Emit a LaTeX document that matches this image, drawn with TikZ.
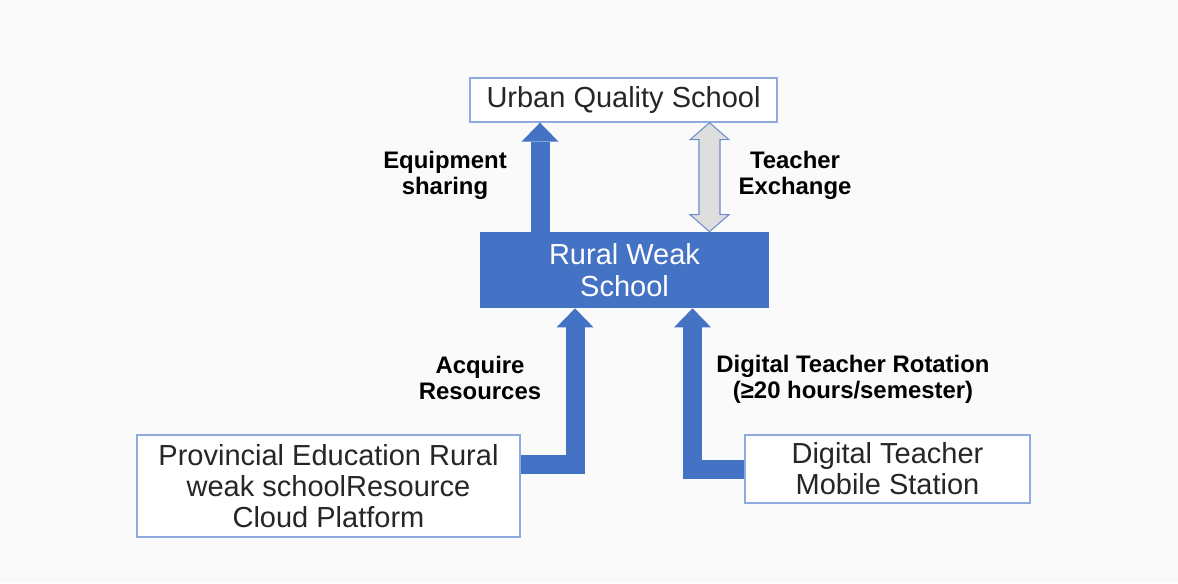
\documentclass[tikz,border=0pt]{standalone}
\usepackage{fontspec}
\setmainfont{Liberation Sans}
\usetikzlibrary{arrows.meta,calc}
\definecolor{wordblue}{RGB}{68,114,196}
\definecolor{boxline}{RGB}{143,170,220}
\definecolor{exchgray}{RGB}{222,222,222}
\definecolor{exchline}{RGB}{110,140,205}
\definecolor{bggray}{RGB}{250,250,250}
\begin{document}
\begin{tikzpicture}[
  whitebox/.style={draw=boxline,line width=0.8pt,fill=white,align=center,text=black!85,
    font=\fontsize{16.5}{17.6}\selectfont,inner sep=0pt},
  ruralbox/.style={fill=wordblue,align=center,text=white,font=\fontsize{16.5}{18.2}\selectfont,
    inner sep=0pt,minimum width=5.78cm,minimum height=1.52cm},
  lab/.style={align=center,font=\fontsize{13.6}{14.8}\selectfont\bfseries},
  bigarrow/.style={draw=wordblue,line width=0.38cm,line join=miter,
    -{Triangle[width=0.74cm,length=0.38cm,line width=0pt]}},
  exch/.style={draw=exchline,fill=exchgray,line width=0.6pt}
]
\fill[bggray](0,0) rectangle (23.56,11.66);
%boxes
\node[whitebox,minimum width=6.14cm,minimum height=0.88cm](urban) at (12.47,9.66){Urban Quality School};
\node[ruralbox](rural) at (12.49,6.26){Rural Weak\\School};
\node[whitebox,minimum width=7.66cm,minimum height=2.04cm](prov) at (6.57,1.94){Provincial Education Rural\\weak schoolResource\\Cloud Platform};
\node[whitebox,minimum width=5.7cm,minimum height=1.36cm](dig) at (17.75,2.28){Digital Teacher\\Mobile Station};
%labels
\node[lab](equip) at (8.9,8.16){Equipment\\sharing};
\node[lab](teach) at (15.9,8.16){Teacher\\Exchange};
\node[lab](acq) at (9.6,4.1){Acquire\\Resources};
\node[lab](rot) at (17.06,4.08){Digital Teacher Rotation\\(≥20 hours/semester)};
%arrows
\draw[bigarrow]([xshift=-1.69cm]rural.north)--([xshift=-1.69cm]rural.north |- urban.south);
\draw[bigarrow]([yshift=0.44cm]prov.east)-|([xshift=-0.99cm]rural.south);
\draw[bigarrow](dig.west)-|([xshift=1.36cm]rural.south);
\coordinate (ea) at ([xshift=1.7cm]rural.north);
\coordinate (eb) at (ea |- urban.south);
\draw[exch](ea)--($(ea)+(0.39,0.34)$)--($(ea)+(0.21,0.34)$)--($(eb)+(0.21,-0.34)$)--($(eb)+(0.39,-0.34)$)
  --(eb)--($(eb)+(-0.39,-0.34)$)--($(eb)+(-0.21,-0.34)$)--($(ea)+(-0.21,0.34)$)--($(ea)+(-0.39,0.34)$)--cycle;
\end{tikzpicture}
\end{document}
